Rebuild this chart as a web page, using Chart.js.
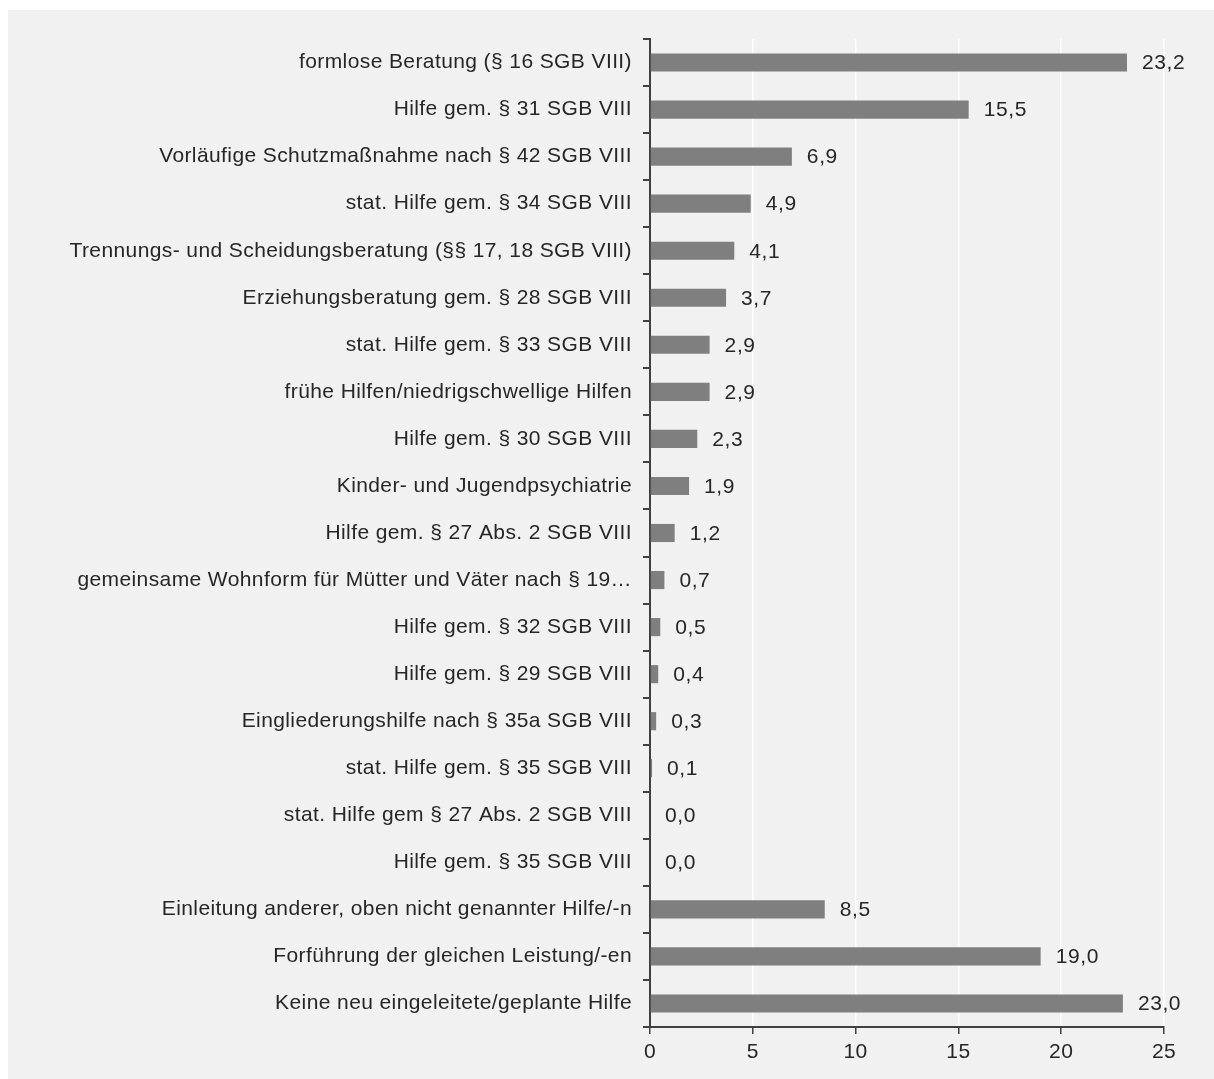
<!DOCTYPE html>
<html>
<head>
<meta charset="utf-8">
<script src="https://cdn.jsdelivr.net/npm/chart.js@4/dist/chart.umd.min.js"></script>
<style>
html,body{margin:0;padding:0;background:#fff;}
#wrap{position:absolute;left:0;top:0;width:1214px;height:1079px;}
</style>
</head>
<body>
<div id="wrap"><canvas id="c" width="1214" height="1079"></canvas></div>
<script>
const categories = [
  "formlose Beratung (§ 16 SGB VIII)",
  "Hilfe gem. § 31 SGB VIII",
  "Vorläufige Schutzmaßnahme nach § 42 SGB VIII",
  "stat. Hilfe gem. § 34 SGB VIII",
  "Trennungs- und Scheidungsberatung (§§ 17, 18 SGB VIII)",
  "Erziehungsberatung gem. § 28 SGB VIII",
  "stat. Hilfe gem. § 33 SGB VIII",
  "frühe Hilfen/niedrigschwellige Hilfen",
  "Hilfe gem. § 30 SGB VIII",
  "Kinder- und Jugendpsychiatrie",
  "Hilfe gem. § 27 Abs. 2 SGB VIII",
  "gemeinsame Wohnform für Mütter und Väter nach § 19…",
  "Hilfe gem. § 32 SGB VIII",
  "Hilfe gem. § 29 SGB VIII",
  "Eingliederungshilfe nach § 35a SGB VIII",
  "stat. Hilfe gem. § 35 SGB VIII",
  "stat. Hilfe gem § 27 Abs. 2 SGB VIII",
  "Hilfe gem. § 35 SGB VIII",
  "Einleitung anderer, oben nicht genannter Hilfe/-n",
  "Forführung der gleichen Leistung/-en",
  "Keine neu eingeleitete/geplante Hilfe"
];
const values = [23.2, 15.5, 6.9, 4.9, 4.1, 3.7, 2.9, 2.9, 2.3, 1.9, 1.2, 0.7, 0.5, 0.4, 0.3, 0.1, 0.0, 0.0, 8.5, 19.0, 23.0];
const xTicks = [0, 5, 10, 15, 20, 25];

const FONT = "'Liberation Sans', Arial, sans-serif";
const TXT = '#262626';

const bgPlugin = {
  id: 'bg',
  beforeDraw(chart) {
    const ctx = chart.ctx;
    ctx.letterSpacing = '0.4px';
    ctx.save();
    ctx.fillStyle = '#ffffff';
    ctx.fillRect(0, 0, chart.width, chart.height);
    ctx.fillStyle = '#f1f1f1';
    ctx.fillRect(8, 10, chart.width - 8, chart.height - 10);
    ctx.restore();
  }
};

const valueLabels = {
  id: 'valueLabels',
  afterDatasetsDraw(chart) {
    const ctx = chart.ctx;
    const meta = chart.getDatasetMeta(0);
    ctx.save();
    ctx.letterSpacing = '0.6px';
    ctx.font = '21px ' + FONT;
    ctx.fillStyle = TXT;
    ctx.textAlign = 'left';
    ctx.textBaseline = 'middle';
    meta.data.forEach((bar, i) => {
      const v = chart.data.datasets[0].data[i];
      ctx.fillText(v.toFixed(1).replace('.', ','), bar.x + 15, bar.y + 1);
    });
    ctx.restore();
  }
};

new Chart(document.getElementById('c'), {
  type: 'bar',
  data: {
    labels: categories,
    datasets: [{
      data: values,
      backgroundColor: '#7f7f7f',
      borderWidth: 0,
      categoryPercentage: 1,
      barPercentage: 0.385
    }]
  },
  plugins: [bgPlugin, valueLabels],
  options: {
    indexAxis: 'y',
    responsive: false,
    animation: false,
    devicePixelRatio: 1,
    layout: { padding: { left: 0, top: 39, right: 50, bottom: 10 } },
    plugins: { legend: { display: false }, tooltip: { enabled: false } },
    scales: {
      x: {
        min: 0, max: 25,
        afterBuildTicks(scale) { scale.ticks = xTicks.map(v => ({ value: v })); },
        afterFit(scale) { scale.height = 42; },
        grid: { color: '#ffffff', lineWidth: 1.5, tickColor: '#404040', tickLength: 7, drawTicks: true },
        border: { color: '#404040', width: 2 },
        ticks: { color: TXT, font: { family: FONT, size: 21 }, padding: 6 }
      },
      y: {
        afterFit(scale) { scale.width = 650; },
        grid: { drawOnChartArea: false, offset: true, tickColor: '#404040', tickLength: 7, lineWidth: 2 },
        border: { color: '#404040', width: 2 },
        ticks: { color: TXT, font: { family: FONT, size: 21 }, padding: 11, autoSkip: false }
      }
    }
  }
});
</script>
</body>
</html>
